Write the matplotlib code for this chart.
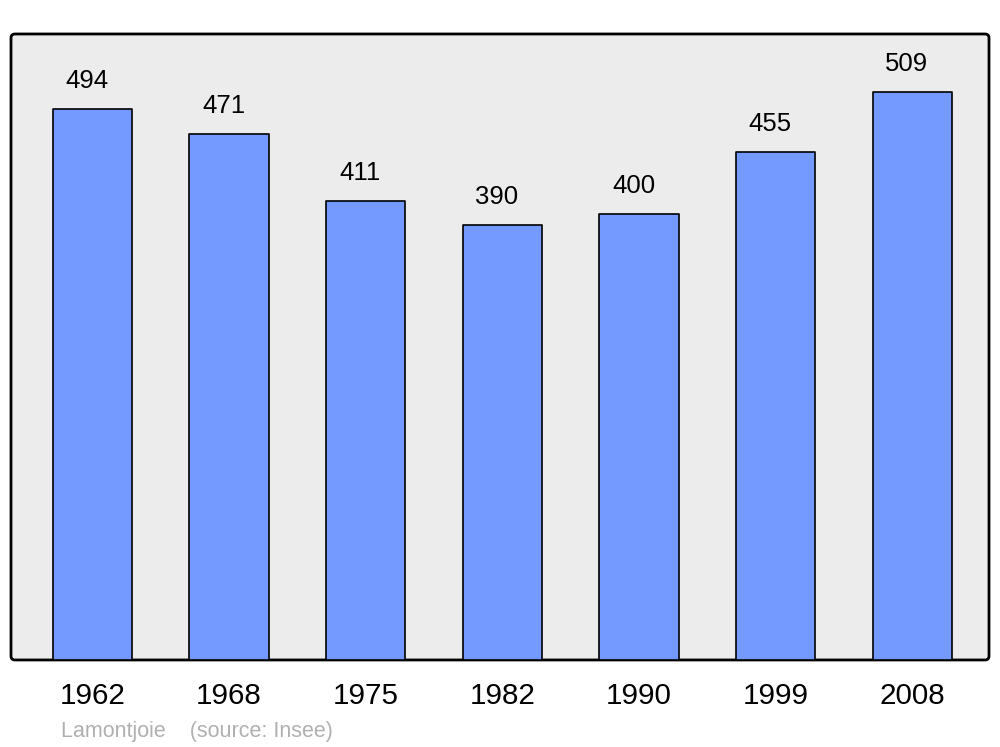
import matplotlib.pyplot as plt
from matplotlib.patches import FancyBboxPatch
import numpy as np

plt.rcParams['font.family'] = ['Liberation Sans', 'DejaVu Sans']

years = ['1962', '1968', '1975', '1982', '1990', '1999', '2008']
population = [494, 471, 411, 390, 400, 455, 509]

fig = plt.figure(figsize=(10, 7.47), dpi=100)
ax = fig.add_axes([0.011, 0.1165, 0.978, 0.838])
ax.set_zorder(2)

ax.patch.set_visible(False)
for s in ax.spines.values():
    s.set_visible(False)

# rounded frame behind the axes
frame = FancyBboxPatch((0.011, 0.1165), 0.978, 0.838,
                       boxstyle='round,pad=0,rounding_size=0.004',
                       mutation_aspect=1000 / 747,
                       facecolor='#ececec', edgecolor='black', linewidth=2,
                       transform=fig.transFigure, zorder=0)
fig.patches.append(frame)

x = np.arange(len(years))
ax.bar(x, population, width=0.58, color='#7499ff', edgecolor='black',
       linewidth=1.2, joinstyle='round', zorder=2)

for xi, v in zip(x, population):
    ax.annotate(str(v), (xi, v), xytext=(-4, 11.5), textcoords='offset points',
                ha='center', va='bottom', fontsize=18.5)

ax.set_xlim(-0.595, 6.56)
ax.set_ylim(0, 561)
ax.set_yticks([])
ax.set_xticks(x)
ax.set_xticklabels(years, fontsize=21.3)
ax.tick_params(axis='x', length=0, pad=16)

fig.text(0.061, 0.0134, 'Lamontjoie    (source: Insee)', fontsize=15.5,
         color='#b0b0b0', va='baseline', ha='left')

fig.savefig('out.png', dpi=100)
